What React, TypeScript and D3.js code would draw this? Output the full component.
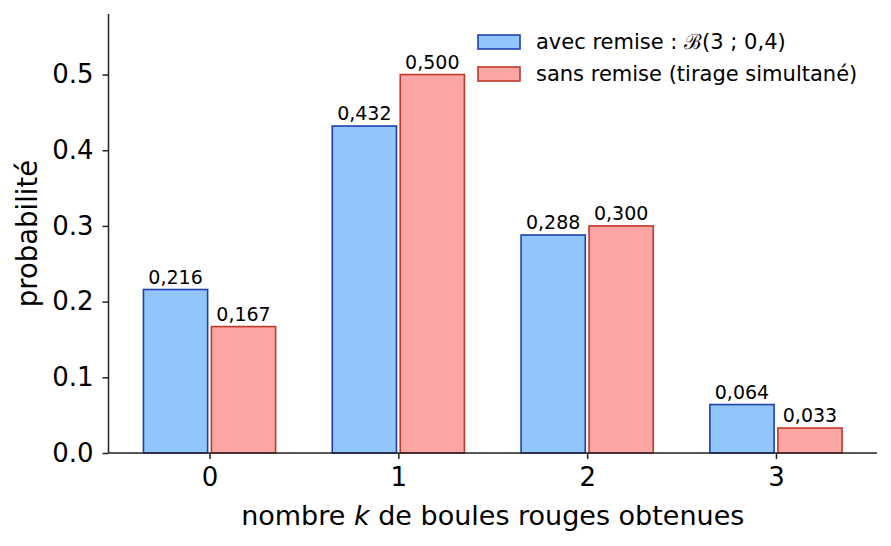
import React, { useRef, useEffect } from "react";
import * as d3 from "d3";

const categories = [0, 1, 2, 3];
const avecRemise = [0.216, 0.432, 0.288, 0.064];
const sansRemise = [0.167, 0.5, 0.3, 0.033];
const yTicks = [0, 0.1, 0.2, 0.3, 0.4, 0.5];
const seriesLabels = ["avec remise : ", "sans remise (tirage simultané)"];

const fmt = (v: number) => v.toFixed(3).replace(".", ",");

const Chart = () => {
  const ref = useRef<SVGSVGElement>(null);

  useEffect(() => {
    if (!ref.current) return;
    const W = 891;
    const H = 546;
    const margin = { top: 14, right: 14, bottom: 93, left: 108.5 };
    const width = W - margin.left - margin.right;
    const height = H - margin.top - margin.bottom;
    const font = "DejaVu Sans, sans-serif";

    const root = d3.select(ref.current);
    root.selectAll("*").remove();
    root.attr("width", W).attr("height", H).attr("viewBox", `0 0 ${W} ${H}`);

    const svg = root
      .append("g")
      .attr("transform", `translate(${margin.left},${margin.top})`);

    const x = d3.scaleLinear().domain([-0.535, 3.535]).range([0, width]);
    const y = d3.scaleLinear().domain([0, 0.58]).range([height, 0]);

    const barW = 0.34;
    const series = [
      { values: avecRemise, offset: -0.18, fill: "#93c5fd", stroke: "#1e40af" },
      { values: sansRemise, offset: 0.18, fill: "#fca5a5", stroke: "#c0392b" },
    ];

    series.forEach((s) => {
      const g = svg.append("g");
      g.selectAll("rect")
        .data(categories)
        .enter()
        .append("rect")
        .attr("x", (d) => x(d + s.offset - barW / 2))
        .attr("width", (d) => x(d + s.offset + barW / 2) - x(d + s.offset - barW / 2))
        .attr("y", (d, i) => y(s.values[i]))
        .attr("height", (d, i) => height - y(s.values[i]))
        .attr("fill", s.fill)
        .attr("stroke", s.stroke)
        .attr("stroke-width", 1.6);
      g.selectAll("text")
        .data(categories)
        .enter()
        .append("text")
        .attr("x", (d) => x(d + s.offset))
        .attr("y", (d, i) => y(s.values[i]) - 6)
        .attr("text-anchor", "middle")
        .attr("font-family", font)
        .attr("font-size", 19)
        .attr("fill", "#000")
        .text((d, i) => fmt(s.values[i]));
    });

    // axes
    const xAxis = svg
      .append("g")
      .attr("transform", `translate(0,${height})`)
      .call(d3.axisBottom(x).tickValues(categories).tickFormat(d3.format("d")).tickSize(6).tickPadding(9));
    const yAxis = svg
      .append("g")
      .call(d3.axisLeft(y).tickValues(yTicks).tickFormat(d3.format(".1f")).tickSize(6).tickPadding(9));

    [xAxis, yAxis].forEach((a) => {
      a.select(".domain").attr("stroke", "#222").attr("stroke-width", 1.5);
      a.selectAll(".tick line").attr("stroke", "#222").attr("stroke-width", 1.5);
      a.selectAll(".tick text")
        .attr("font-family", font)
        .attr("font-size", 26)
        .attr("fill", "#000");
    });
    xAxis.select(".domain").attr("d", `M0,0H${width}`);
    yAxis.select(".domain").attr("d", `M0,${height}V0`);

    // axis labels
    const xl = svg
      .append("text")
      .attr("x", width / 2)
      .attr("y", height + 72)
      .attr("text-anchor", "middle")
      .attr("font-family", font)
      .attr("font-size", 27)
      .attr("fill", "#000");
    xl.append("tspan").text("nombre ");
    xl.append("tspan").attr("font-style", "italic").text("k");
    xl.append("tspan").text(" de boules rouges obtenues");

    svg
      .append("text")
      .attr("transform", `translate(${-72},${height / 2}) rotate(-90)`)
      .attr("text-anchor", "middle")
      .attr("font-family", font)
      .attr("font-size", 27.5)
      .attr("fill", "#000")
      .text("probabilité");

    // legend
    const leg = svg.append("g").attr("transform", `translate(${478 - margin.left},${35 - margin.top})`);
    series.forEach((s, i) => {
      const row = leg.append("g").attr("transform", `translate(0,${i * 32})`);
      row
        .append("rect")
        .attr("width", 42)
        .attr("height", 14)
        .attr("fill", s.fill)
        .attr("stroke", s.stroke)
        .attr("stroke-width", 1.6);
      const t = row
        .append("text")
        .attr("x", 58)
        .attr("y", 14)
        .attr("font-family", font)
        .attr("font-size", 21)
        .attr("fill", "#000");
      t.append("tspan").text(seriesLabels[i]);
      if (i === 0) {
        t.append("tspan").attr("font-family", "DejaVu Serif, serif").text("\u212C");
        t.append("tspan").text("(3 ; 0,4)");
      }
    });
  }, []);

  return <svg ref={ref} style={{ display: "block", position: "absolute", left: 0, top: 0 }} />;
};

export default function App() {
  return <Chart />;
}
